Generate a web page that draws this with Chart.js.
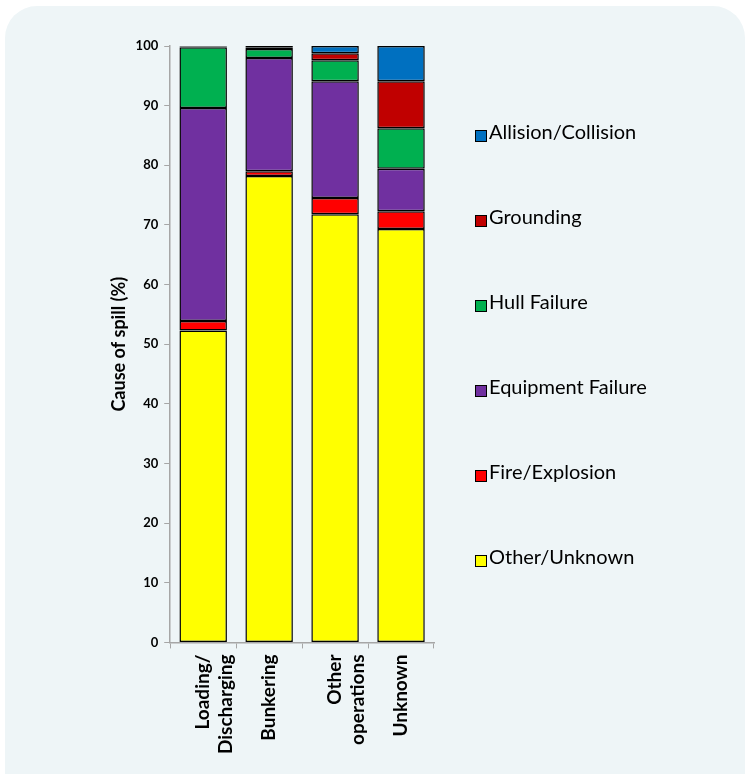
<!DOCTYPE html>
<html>
<head>
<meta charset="utf-8">
<script src="https://cdn.jsdelivr.net/npm/chart.js@4"></script>
<style>
  body { margin: 0; background: #ffffff; width: 747px; height: 774px; overflow: hidden; position: relative; font-family: "Lato", sans-serif; }
  #panel { position: absolute; left: 5px; top: 6px; width: 740px; height: 820px; background: #eef5f7; border-radius: 32px; }
  #wrap { position: absolute; left: 0; top: 0; width: 747px; height: 774px; }
  #legend { position: absolute; left: 475px; top: 0; }
  .item { position: absolute; white-space: nowrap; font-size: 20px; color: #000; }
  .box { position: absolute; left: 0; top: 7px; width: 10px; height: 10px; border: 1px solid #000; }
  .txt { position: absolute; left: 14px; top: -4px; }
</style>
</head>
<body>
<div id="panel"></div>
<div id="wrap"><canvas id="spillChart" width="747" height="774"></canvas></div>
<div id="legend"></div>
<script>
// Cause of spill by operation
const operations = [["Loading/", "Discharging"], "Bunkering", ["Other", "operations"], "Unknown"];
const causes = ["Other/Unknown", "Fire/Explosion", "Equipment Failure", "Hull Failure", "Grounding", "Allision/Collision"];
const colours = ["#ffff00", "#ff0000", "#7030a0", "#00b050", "#c00000", "#0070c0"];

const otherUnknown = [52.3, 78.2, 71.8, 69.3];
const fireExplosion = [1.6, 0.8, 2.7, 3.0];
const equipmentFailure = [35.7, 19.0, 19.6, 7.1];
const hullFailure = [10.2, 1.5, 3.5, 6.8];
const grounding = [0.1, 0.2, 1.2, 7.9];
const allisionCollision = [0.1, 0.3, 1.2, 5.9];

const seriesValues = [otherUnknown, fireExplosion, equipmentFailure, hullFailure, grounding, allisionCollision];
const yTicks = [0, 10, 20, 30, 40, 50, 60, 70, 80, 90, 100];

const axisGrey = "#a6a6a6";

const chart = new Chart(document.getElementById("spillChart").getContext("2d"), {
  type: "bar",
  data: {
    labels: operations,
    datasets: causes.map((name, i) => ({
      label: name,
      data: seriesValues[i],
      backgroundColor: colours[i],
      borderColor: "#000000",
      borderWidth: 1.5,
      borderSkipped: false,
      barPercentage: 0.72,
      categoryPercentage: 1,
    })),
  },
  options: {
    responsive: false,
    animation: false,
    layout: { padding: { left: 106, right: 313, top: 46, bottom: 14 } },
    plugins: { legend: { display: false }, tooltip: { enabled: false } },
    scales: {
      x: {
        stacked: true,
        grid: { drawOnChartArea: false, color: axisGrey, tickLength: 6, offset: true },
        border: { color: axisGrey, width: 1.5 },
        ticks: {
          color: "#000",
          font: { family: "Lato", size: 19, weight: "bold" },
          minRotation: 90,
          maxRotation: 90,
          padding: 6,
        },
      },
      y: {
        stacked: true,
        min: 0,
        max: 100,
        afterBuildTicks: (axis) => { axis.ticks = yTicks.map((v) => ({ value: v })); },
        grid: { drawOnChartArea: false, color: axisGrey, tickLength: 6 },
        border: { color: axisGrey, width: 1.5 },
        ticks: { color: "#000", font: { family: "Lato", size: 13, weight: "bold" }, padding: 6 },
        title: {
          display: true,
          text: "Cause of spill (%)",
          color: "#000",
          font: { family: "Lato", size: 18, weight: "bold" },
          padding: { top: 2, bottom: 0 },
        },
      },
    },
  },
});

// legend: top item is the last dataset
const legend = document.getElementById("legend");
chart.data.datasets.slice().reverse().forEach((ds, i) => {
  const item = document.createElement("div");
  item.className = "item";
  item.style.top = (123 + i * 85) + "px";
  item.innerHTML = '<span class="box" style="background:' + ds.backgroundColor + '"></span><span class="txt">' + ds.label + "</span>";
  legend.appendChild(item);
});
</script>
</body>
</html>
